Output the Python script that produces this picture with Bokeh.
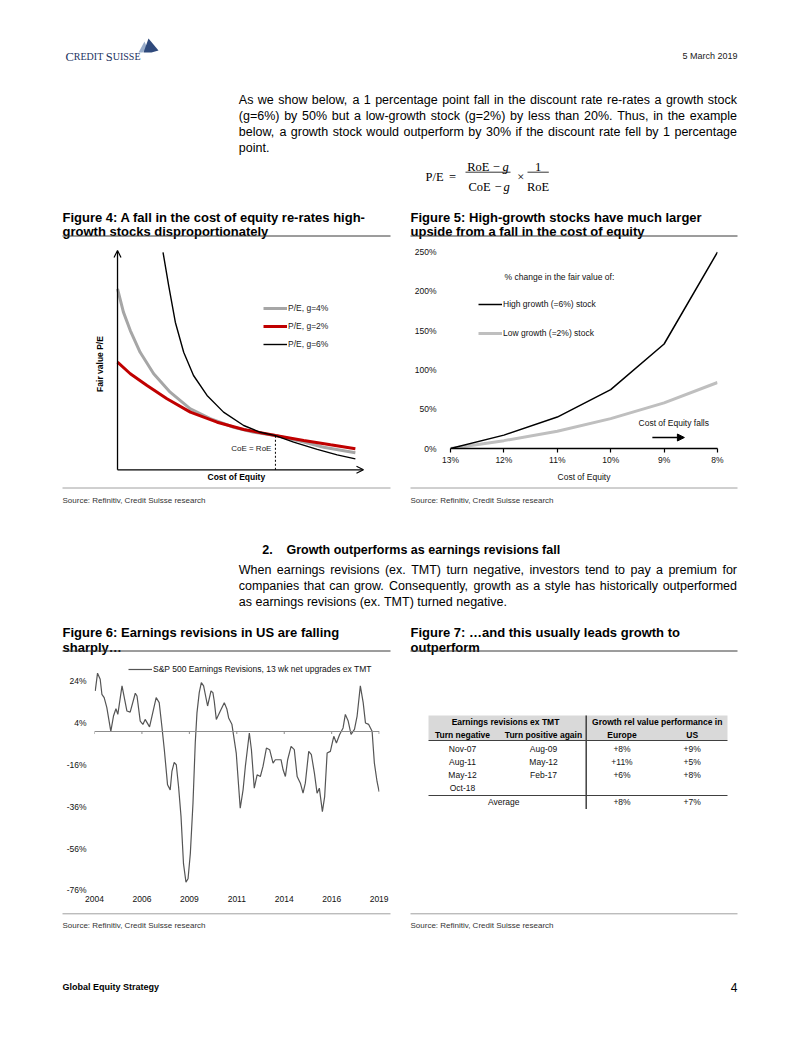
from bokeh.plotting import figure
from bokeh.models import (Range1d, ColumnDataSource, Legend, LegendItem, Label,
                          Arrow, OpenHead, NormalHead, FixedTicker, Span)
from bokeh.layouts import column, row
from bokeh.embed import file_html
from bokeh.resources import INLINE
from bokeh.core.properties import value

SANS = "Liberation Sans"
SERIF = "Liberation Serif"

# ---------------- page texts ----------------
logo_parts = [("C", 12.5), ("REDIT", 10), (" ", 10), ("S", 12.5), ("UISSE", 10)]
date_text = "5 March 2019"
para1 = ["As we show below, a 1 percentage point fall in the discount rate re-rates a growth stock",
         "(g=6%) by 50% but a low-growth stock (g=2%) by less than 20%. Thus, in the example",
         "below, a growth stock would outperform by 30% if the discount rate fell by 1 percentage",
         "point."]
fig4_title = ["Figure 4: A fall in the cost of equity re-rates high-", "growth stocks disproportionately"]
fig5_title = ["Figure 5: High-growth stocks have much larger", "upside from a fall in the cost of equity"]
source_text = "Source: Refinitiv, Credit Suisse research"
heading_num = "2."
heading = "Growth outperforms as earnings revisions fall"
para2 = ["When earnings revisions (ex. TMT) turn negative, investors tend to pay a premium for",
         "companies that can grow. Consequently, growth as a style has historically outperformed",
         "as earnings revisions (ex. TMT) turned negative."]
fig6_title = ["Figure 6: Earnings revisions in US are falling", "sharply\u2026"]
fig7_title = ["Figure 7: \u2026and this usually leads growth to", "outperform"]
footer_left = "Global Equity Strategy"
page_number = "4"

# ---------------- Figure 4 (arbitrary units) ----------------
f4_g6_x = [1.85, 2.08, 2.35, 2.69, 3.09, 3.64, 4.31, 5.13, 5.81, 6.42, 7.16, 8.12, 8.93, 9.67]
f4_g6_y = [9.92, 8.40, 6.73, 5.36, 4.30, 3.39, 2.63, 2.02, 1.71, 1.56, 1.26, 0.93, 0.68, 0.50]
f4_g4_x = [0.0, 0.24, 0.52, 0.92, 1.47, 2.14, 2.96, 3.77, 4.72, 5.54, 6.42, 7.30, 8.38, 9.67]
f4_g4_y = [8.25, 7.19, 6.35, 5.36, 4.38, 3.54, 2.78, 2.33, 1.94, 1.71, 1.56, 1.34, 1.03, 0.78]
f4_g2_x = [0.0, 0.52, 1.20, 2.01, 2.96, 4.05, 5.13, 6.42, 7.57, 8.66, 9.67]
f4_g2_y = [4.91, 4.38, 3.84, 3.24, 2.63, 2.17, 1.84, 1.56, 1.34, 1.14, 0.96]
f4_labels = ["P/E, g=4%", "P/E, g=2%", "P/E, g=6%"]
f4_cross_x = 6.42
f4_cross_y = 1.56
f4_axis_max = 10

# ---------------- Figure 5 ----------------
f5_coe = [13, 12, 11, 10, 9, 8]
f5_high = [0, 17, 40, 75, 133, 250]
f5_low = [0, 10, 22, 38, 58, 84]
f5_yticks = [0, 50, 100, 150, 200, 250]
f5_ytick_labels = ["0%", "50%", "100%", "150%", "200%", "250%"]
f5_xtick_labels = ["13%", "12%", "11%", "10%", "9%", "8%"]

# ---------------- Figure 6 ----------------
f6_year = [2004.04, 2004.16, 2004.30, 2004.39, 2004.51, 2004.65, 2004.86, 2005.00, 2005.13, 2005.23,
           2005.45, 2005.71, 2005.88, 2006.15, 2006.24, 2006.41, 2006.55, 2006.67, 2006.90, 2007.03,
           2007.25, 2007.41, 2007.55, 2007.68, 2007.85, 2007.99, 2008.08, 2008.20, 2008.31, 2008.43,
           2008.56, 2008.69, 2008.82, 2008.93, 2009.05, 2009.19, 2009.31, 2009.40, 2009.52, 2009.63,
           2009.75, 2009.96, 2010.14, 2010.24, 2010.31, 2010.42, 2010.63, 2010.84, 2010.98, 2011.07,
           2011.24, 2011.47, 2011.68, 2011.83, 2011.95, 2012.16, 2012.27, 2012.42, 2012.57, 2012.74,
           2012.88, 2013.06, 2013.23, 2013.41, 2013.53, 2013.83, 2013.94, 2014.06, 2014.18, 2014.36,
           2014.53, 2014.68, 2014.85, 2014.99, 2015.11, 2015.29, 2015.43, 2015.59, 2015.73, 2015.85,
           2016.01, 2016.13, 2016.26, 2016.43, 2016.61, 2016.75, 2016.92, 2017.10, 2017.22, 2017.37,
           2017.52, 2017.70, 2017.84, 2018.01, 2018.16, 2018.28, 2018.45, 2018.63, 2018.75, 2018.89,
           2019.00]
f6_value = [19.4, 27.9, 25.0, 17.8, 16.2, 11.4, 0.1, 7.4, 10.9, 8.2,
            21.8, 9.8, 9.3, 18.3, 17.0, 5.0, 3.4, 5.8, 2.2, 7.4,
            16.2, 13.8, 2.5, -8.7, -25.5, -27.9, -19.1, -14.8, -15.9, -26.3,
            -40.7, -63.2, -72.0, -70.4, -58.4, -34.3, -5.5, 8.9, 18.6, 23.4,
            21.8, 12.2, 19.4, 18.6, 14.6, 5.8, 9.8, 13.8, 10.6, 6.5,
            3.5, -10.3, -36.7, -27.9, -16.7, -0.7, -8.7, -27.1, -20.7, -21.5,
            -16.7, -7.9, -8.7, -15.1, -13.5, -13.5, -18.3, -21.5, -13.5, -7.1,
            -8.7, -21.5, -24.7, -29.5, -24.7, -9.5, -11.1, -19.9, -29.5, -27.1,
            -38.3, -31.1, -10.3, -9.5, -2.3, -5.5, -1.4, 1.7, 8.2, 5.0,
            -1.4, 1.0, 7.4, 21.8, 13.8, 4.1, 3.4, 0.1, -15.1, -23.9,
            -28.7]
f6_label = "S&P 500 Earnings Revisions, 13 wk net upgrades ex TMT"
f6_xticks = [2004, 2006.5, 2009, 2011.5, 2014, 2016.5, 2019]
f6_xtick_labels = ["2004", "2006", "2009", "2011", "2014", "2016", "2019"]
f6_yticks = [-76, -56, -36, -16, 4, 24]
f6_ytick_labels = ["-76%", "-56%", "-36%", "-16%", "4%", "24%"]

# ---------------- Figure 7 (table) ----------------
t7_group_headers = ["Earnings revisions ex TMT", "Growth rel value performance in"]
t7_col_headers = ["Turn negative", "Turn positive again", "Europe", "US"]
t7_turn_negative = ["Nov-07", "Aug-11", "May-12", "Oct-18"]
t7_turn_positive = ["Aug-09", "May-12", "Feb-17", ""]
t7_europe = ["+8%", "+11%", "+6%", ""]
t7_us = ["+9%", "+5%", "+8%", ""]
t7_avg_label = "Average"
t7_avg_europe = "+8%"
t7_avg_us = "+7%"

# ---------------- helpers ----------------
_AR = {' ': 278, '!': 278, '%': 889, '(': 333, ')': 333, ',': 278, '-': 333, '.': 278,
       ':': 278, '=': 584, '/': 278, '&': 667}
for _c in "0123456789":
    _AR[_c] = 556
_AR.update(dict(zip("ABCDEFGHIJKLMNOPQRSTUVWXYZ",
                    [667, 667, 722, 722, 667, 611, 778, 722, 278, 500, 667, 556, 833, 722, 778,
                     667, 778, 722, 667, 611, 722, 667, 944, 667, 667, 611])))
_AR.update(dict(zip("abcdefghijklmnopqrstuvwxyz",
                    [556, 556, 500, 556, 556, 278, 556, 556, 222, 222, 500, 222, 833, 556, 556,
                     556, 556, 333, 500, 278, 556, 500, 722, 500, 500, 500])))
_TR = {'C': 667, 'R': 667, 'E': 611, 'D': 722, 'I': 333, 'T': 611, 'S': 556, 'U': 722, ' ': 250}


def tw(s, size):
    return sum(_AR.get(c, 556) for c in s) * size / 1000.0


def justify(lines, x0, x1, ys, size):
    xs, yy, tt = [], [], []
    for i, (line, y) in enumerate(zip(lines, ys)):
        words = line.split(" ")
        ws = [tw(w, size) for w in words]
        last = (i == len(lines) - 1)
        gap = tw(" ", size) if (last or len(words) == 1) else (x1 - x0 - sum(ws)) / (len(words) - 1)
        x = x0
        for w, wd in zip(words, ws):
            xs.append(x); yy.append(y); tt.append(w)
            x += wd + gap
    return xs, yy, tt


def page_fig(w, h, x0, y0):
    p = figure(width=w, height=h, x_range=Range1d(x0, x0 + w), y_range=Range1d(y0 + h, y0),
               x_axis_type=None, y_axis_type=None, output_backend="svg",
               toolbar_location=None, title=None, min_border=0, frame_align=False)
    p.outline_line_color = None
    p.background_fill_color = "white"
    return p


def put(p, xs, ys, texts, size, style="normal", align="left", color="#000000",
        font=SANS, baseline="alphabetic"):
    src = ColumnDataSource(dict(x=list(xs), y=list(ys), text=list(texts)))
    p.text(x="x", y="y", text="text", source=src, text_font=value(font),
           text_font_size=value("%spx" % size), text_font_style=style,
           text_align=align, text_baseline=baseline, text_color=color)


def rule(p, x0, x1, y, color, width=1.0):
    p.segment(x0=[x0], y0=[y], x1=[x1], y1=[y], line_color=color, line_width=width)


TITLE_RULE = "#3a3a3a"
SRC_RULE = "#a0a0a0"

# ================= top block =================
top = page_fig(786, 240, 0, 0)
lx = 65.0
for t, s in logo_parts:
    put(top, [lx], [56], [t], s, font=SERIF, color="#22335f")
    lx += sum(_TR.get(c, 600) for c in t) * s / 1000.0
sail_a_x = [138, 144, 147, 142]
sail_a_y = [52, 41, 48, 52]
sail_b_x = [143, 148, 158, 151]
sail_b_y = [52, 38, 50, 52]
top.patch(sail_a_x, sail_a_y, fill_color="#9aaecb", line_color=None)
top.patch(sail_b_x, sail_b_y, fill_color="#2f4a7c", line_color=None)
put(top, [737], [55.5], [date_text], 9, align="right", color="#1a1a1a")

xs, ys, ts = justify(para1, 238.3, 736.5, [99, 115, 131, 147], 12.5)
put(top, xs, ys, ts, 12.5)

# formula
put(top, [434, 452], [176, 176], ["P/E", "="], 12.5, align="center", font=SERIF)
put(top, [477.8, 495.8, 537.5], [166, 166, 166], ["RoE", "\u2212", "1"], 12.5, align="center", font=SERIF)
put(top, [479, 497.5, 537.5], [186, 186, 186], ["CoE", "\u2212", "RoE"], 12.5, align="center", font=SERIF)
put(top, [505, 506], [166, 186], ["g", "g"], 12.5, style="italic", align="center", font=SERIF)
put(top, [520.3], [176], ["\u00d7"], 12.5, align="center", font=SERIF)
rule(top, 465, 510, 171.7, "#000000", 0.8)
rule(top, 527, 548.3, 171.7, "#000000", 0.8)

put(top, [62, 62], [216.5, 231], fig4_title, 13, style="bold")
put(top, [410, 410], [216.5, 231], fig5_title, 13, style="bold")
rule(top, 62, 390, 235.5, TITLE_RULE)
rule(top, 410, 737, 235.5, TITLE_RULE)

# ================= Figure 4 =================
c4 = figure(width=398, height=245, x_range=Range1d(-0.326, 10.326), y_range=Range1d(-0.716, 10.365),
            output_backend="svg", toolbar_location=None, title=None, frame_align=False,
            min_border_left=109, min_border_right=27, min_border_top=2, min_border_bottom=0)
c4.grid.visible = False
c4.outline_line_color = None
r4 = c4.line(f4_g4_x, f4_g4_y, line_color="#a6a6a6", line_width=3)
r2 = c4.line(f4_g2_x, f4_g2_y, line_color="#c00000", line_width=3)
r6 = c4.line(f4_g6_x, f4_g6_y, line_color="#000000", line_width=1.4)
c4.segment(x0=[f4_cross_x], y0=[0], x1=[f4_cross_x], y1=[f4_cross_y],
           line_color="#000000", line_width=1, line_dash="2 2")
c4.xaxis.visible = False
yax = c4.yaxis[0]
yax.ticker = FixedTicker(ticks=[])
yax.axis_line_color = None
yax.major_tick_line_color = None
yax.minor_tick_line_color = None
yax.major_tick_out = 0
yax.major_tick_in = 0
yax.minor_tick_out = 0
yax.major_label_standoff = 0
yax.major_label_text_font_size = "0px"
yax.axis_label = "Fair value P/E"
yax.axis_label_standoff = 5
yax.axis_label_text_font = SANS
yax.axis_label_text_font_size = "8.5px"
yax.axis_label_text_font_style = "bold"
yax.axis_label_text_color = "#000000"
# axis lines with arrowheads
c4.add_layout(Arrow(end=OpenHead(size=7, line_width=1.2, line_color="#000000"),
                    x_start=0, y_start=0, x_end=0, y_end=f4_axis_max, line_width=1.3,
                    line_color="#000000"))
c4.add_layout(Arrow(end=OpenHead(size=7, line_width=1.2, line_color="#000000"),
                    x_start=0, y_start=0, x_end=f4_axis_max, y_end=0, line_width=1.3,
                    line_color="#000000"))
c4.add_layout(Label(x=4.83, y=-0.31, text="Cost of Equity", text_align="center",
                    text_baseline="middle", text_font=SANS, text_font_size="8.5px",
                    text_font_style="bold", text_color="#000000"))
c4.add_layout(Label(x=f4_cross_x, y=0.96, x_offset=-4, text="CoE = RoE", text_align="right",
                    text_baseline="middle", text_font=SANS, text_font_size="8px",
                    text_color="#222222"))
leg4 = Legend(items=[LegendItem(label=f4_labels[0], renderers=[r4]),
                     LegendItem(label=f4_labels[1], renderers=[r2]),
                     LegendItem(label=f4_labels[2], renderers=[r6])],
              location=(154, 136), padding=0, margin=0, spacing=8, glyph_width=24,
              glyph_height=10, label_height=10, label_standoff=1, label_text_font=SANS,
              label_text_font_size="8.5px", label_text_color="#222222",
              border_line_color=None, background_fill_alpha=0)
c4.add_layout(leg4)

# ================= Figure 5 =================
c5 = figure(width=388, height=245, x_range=Range1d(13, 8), y_range=Range1d(0, 252),
            output_backend="svg", toolbar_location=None, title=None, frame_align=False,
            min_border_left=52, min_border_right=69, min_border_top=10, min_border_bottom=37)
c5.grid.visible = False
c5.outline_line_color = None
rl = c5.line(f5_coe, f5_low, line_color="#bfbfbf", line_width=3)
rh = c5.line(f5_coe, f5_high, line_color="#000000", line_width=1.5)
c5.yaxis.ticker = FixedTicker(ticks=f5_yticks)
c5.yaxis.major_label_overrides = dict(zip(f5_yticks, f5_ytick_labels))
c5.yaxis.axis_line_color = None
c5.yaxis.major_tick_line_color = None
c5.yaxis.minor_tick_line_color = None
c5.yaxis.major_label_standoff = 8
c5.xaxis.ticker = FixedTicker(ticks=f5_coe)
c5.xaxis.major_label_overrides = dict(zip(f5_coe, f5_xtick_labels))
c5.xaxis.axis_line_color = "#000000"
c5.xaxis.axis_line_width = 1.6
c5.xaxis.major_tick_line_color = "#000000"
c5.xaxis.major_tick_line_width = 1.2
c5.xaxis.major_tick_out = 4
c5.xaxis.major_tick_in = 0
c5.xaxis.minor_tick_line_color = None
c5.xaxis.major_label_standoff = 2
c5.xaxis.axis_label = "Cost of Equity"
c5.xaxis.axis_label_standoff = 4
c5.xaxis.axis_label_text_font_style = "normal"
for ax in (c5.xaxis[0], c5.yaxis[0]):
    ax.major_label_text_font = SANS
    ax.major_label_text_font_size = "8.5px"
    ax.major_label_text_color = "#111111"
    ax.axis_label_text_font = SANS
    ax.axis_label_text_font_size = "8.5px"
    ax.axis_label_text_color = "#111111"
c5.add_layout(Label(x=10.96, y=217.8, text="% change in the fair value of:", text_align="center",
                    text_baseline="middle", text_font=SANS, text_font_size="8.5px",
                    text_color="#111111"))
c5.add_layout(Label(x=8.82, y=32.6, text="Cost of Equity falls", text_align="center",
                    text_baseline="middle", text_font=SANS, text_font_size="8.5px",
                    text_color="#111111"))
c5.add_layout(Arrow(end=NormalHead(size=7, fill_color="#000000", line_color="#000000"),
                    x_start=9.22, y_start=14, x_end=8.62, y_end=14, line_width=1.5,
                    line_color="#000000"))
leg5 = Legend(items=[LegendItem(label="High growth (=6%) stock", renderers=[rh]),
                     LegendItem(label="Low growth (=2%) stock", renderers=[rl])],
              location=(28, 110), padding=0, margin=0, spacing=19, glyph_width=24,
              glyph_height=10, label_height=10, label_standoff=1, label_text_font=SANS,
              label_text_font_size="8.5px", label_text_color="#111111",
              border_line_color=None, background_fill_alpha=0)
c5.add_layout(leg5)

# ================= middle block =================
mid = page_fig(786, 170, 0, 485)
rule(mid, 62, 390, 487.5, SRC_RULE)
rule(mid, 410, 737, 487.5, SRC_RULE)
put(mid, [62, 410], [499.5, 499.5], [source_text, source_text], 8, color="#333333")
put(mid, [261.7], [549], [heading_num], 12.5, style="bold")
put(mid, [286], [549], [heading], 12.5, style="bold")
xs, ys, ts = justify(para2, 238.3, 736.5, [569.5, 585.5, 601], 12.5)
put(mid, xs, ys, ts, 12.5)
put(mid, [62, 62], [632, 646.5], fig6_title, 13, style="bold")
put(mid, [410, 410], [632, 646.5], fig7_title, 13, style="bold")
rule(mid, 62, 390, 650.5, TITLE_RULE)
rule(mid, 410, 737, 650.5, TITLE_RULE)

# ================= Figure 6 =================
c6 = figure(width=398, height=255, x_range=Range1d(2004, 2019.02), y_range=Range1d(-76.5, 33),
            output_backend="svg", toolbar_location=None, title=None, frame_align=False,
            min_border_left=94, min_border_right=19, min_border_top=7, min_border_bottom=19)
c6.grid.visible = False
c6.outline_line_color = None
c6.add_layout(Span(location=0, dimension="width", line_color="#8c8c8c", line_width=1))
c6.segment(x0=f6_xticks, y0=[0] * len(f6_xticks), x1=f6_xticks, y1=[-1.2] * len(f6_xticks),
           line_color="#8c8c8c", line_width=1)
r6s = c6.line(f6_year, f6_value, line_color="#555555", line_width=1.2)
c6.xaxis.ticker = FixedTicker(ticks=f6_xticks)
c6.xaxis.major_label_overrides = dict(zip(f6_xticks, f6_xtick_labels))
c6.yaxis.ticker = FixedTicker(ticks=f6_yticks)
c6.yaxis.major_label_overrides = dict(zip(f6_yticks, f6_ytick_labels))
for ax in (c6.xaxis[0], c6.yaxis[0]):
    ax.axis_line_color = None
    ax.major_tick_line_color = None
    ax.minor_tick_line_color = None
    ax.major_tick_out = 0
    ax.major_label_text_font = SANS
    ax.major_label_text_font_size = "8.5px"
    ax.major_label_text_color = "#111111"
c6.yaxis.major_label_standoff = 8
c6.xaxis.major_label_standoff = 4
leg6 = Legend(items=[LegendItem(label=f6_label, renderers=[r6s])],
              location=(34, 217), padding=0, margin=0, glyph_width=24, glyph_height=10,
              label_height=10, label_standoff=1, label_text_font=SANS,
              label_text_font_size="8.5px", label_text_color="#111111",
              border_line_color=None, background_fill_alpha=0)
c6.add_layout(leg6)

# ================= Figure 7 table =================
t7 = page_fig(388, 255, 398, 655)
t7.quad(left=[428], right=[727], top=[715], bottom=[739.5], fill_color="#d9d9d9", line_color=None)
col_x = [462, 543, 621.5, 691.7]
row_y = [748.5, 761.5, 774.7, 787.8]
put(t7, [505, 656.7], [721.5, 721.5], t7_group_headers, 8.5, style="bold", align="center",
    baseline="middle")
put(t7, col_x, [734] * 4, t7_col_headers, 8.5, style="bold", align="center", baseline="middle")
cells_x, cells_y, cells_t = [], [], []
for cx, col in zip(col_x, [t7_turn_negative, t7_turn_positive, t7_europe, t7_us]):
    for ry, v in zip(row_y, col):
        cells_x.append(cx); cells_y.append(ry); cells_t.append(v)
put(t7, cells_x, cells_y, cells_t, 8.5, align="center", baseline="middle", color="#111111")
put(t7, [503.3, col_x[2], col_x[3]], [801.3] * 3, [t7_avg_label, t7_avg_europe, t7_avg_us], 8.5,
    align="center", baseline="middle", color="#111111")
rule(t7, 428, 727, 740, "#404040")
rule(t7, 428, 727, 795, "#404040")
t7.segment(x0=[585.7], y0=[715], x1=[585.7], y1=[808.5], line_color="#404040", line_width=1.5)

# ================= footer block =================
foot = page_fig(786, 119, 0, 910)
rule(foot, 62, 390, 913.3, SRC_RULE)
rule(foot, 410, 737, 913.3, SRC_RULE)
put(foot, [62, 410], [924.5, 924.5], [source_text, source_text], 8, color="#333333")
put(foot, [62], [986], [footer_left], 9, style="bold")
put(foot, [737], [987], [page_number], 12, align="right")

layout = column(top, row(c4, c5), mid, row(c6, t7), foot)
open("out.html", "w").write(file_html(layout, INLINE))
